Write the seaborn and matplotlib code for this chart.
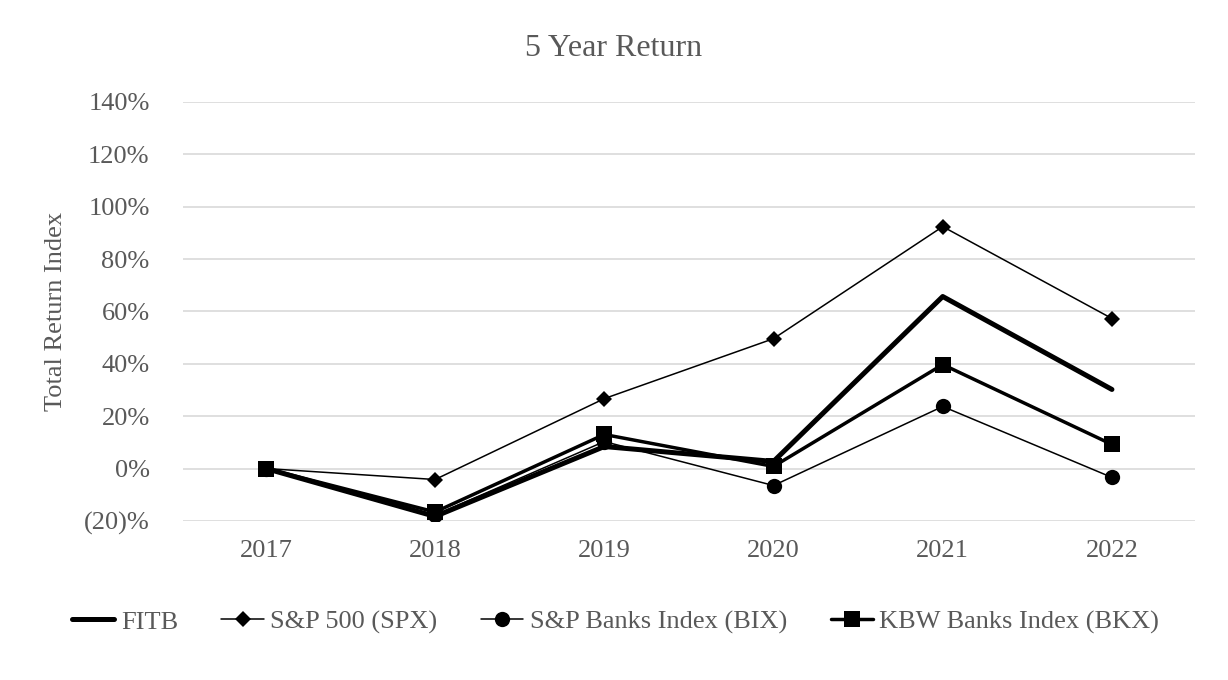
import pandas as pd
import numpy as np
import matplotlib.pyplot as plt
import seaborn as sns
from matplotlib.ticker import FuncFormatter

years = ['2017', '2018', '2019', '2020', '2021', '2022']
fitb = [0, -18.3, 8.4, 2.7, 65.7, 30.2]
spx = [0, -4.2, 26.7, 49.6, 92.4, 57.3]
bix = [0, -17.8, 10.3, -6.5, 23.7, -3.4]
bkx = [0, -16.6, 13.0, 0.8, 39.7, 9.2]

series = {
    'FITB': fitb,
    'S&P 500 (SPX)': spx,
    'S&P Banks Index (BIX)': bix,
    'KBW Banks Index (BKX)': bkx,
}
styles = {
    'FITB': dict(lw=3.6, marker=None, ms=0),
    'S&P 500 (SPX)': dict(lw=1.1, marker='D', ms=8),
    'S&P Banks Index (BIX)': dict(lw=1.1, marker='o', ms=11),
    'KBW Banks Index (BKX)': dict(lw=2.5, marker='s', ms=12),
}

sns.set_theme(style='white')
plt.rcParams['font.family'] = ['Liberation Serif', 'DejaVu Serif']
grey = '#595959'

fig, ax = plt.subplots(figsize=(12.28, 6.8), dpi=100)
fig.subplots_adjust(left=0.149, right=0.973, top=0.85, bottom=0.234)

x = np.arange(len(years))
for name, vals in series.items():
    st = styles[name]
    sns.lineplot(x=x, y=vals, ax=ax, color='black', linewidth=st['lw'],
                 marker=st['marker'], markersize=st['ms'], markeredgewidth=0,
                 label=name, legend=False)

ax.set_xlim(-0.49, 5.49)
ax.set_ylim(-20, 140)
ax.set_xticks(x)
ax.set_xticklabels(years)
ax.set_yticks(range(-20, 141, 20))

def pct(v, pos):
    v = int(round(v))
    return f'({abs(v)})%' if v < 0 else f'{v}%'

ax.yaxis.set_major_formatter(FuncFormatter(pct))
ax.grid(axis='y', color='#d9d9d9', linewidth=1.2)
ax.set_axisbelow(True)
for s in ax.spines.values():
    s.set_visible(False)
ax.tick_params(axis='both', colors=grey, labelsize=19, length=0)
ax.tick_params(axis='x', pad=14)
ax.tick_params(axis='y', pad=24)

ax.set_ylabel('Total Return Index', color=grey, fontsize=19, labelpad=12)
fig.text(0.5, 0.929, '5 Year Return', color=grey, fontsize=23,
         ha='center', va='center')

handles, labels = ax.get_legend_handles_labels()
leg = fig.legend(handles, labels, loc='center left', bbox_to_anchor=(0.05, 0.085),
                 ncol=4, frameon=False, fontsize=19, handlelength=1.6,
                 columnspacing=1.65, handletextpad=0.25, borderaxespad=0)
for t in leg.get_texts():
    t.set_color(grey)

fig.savefig('out.png', dpi=100)
